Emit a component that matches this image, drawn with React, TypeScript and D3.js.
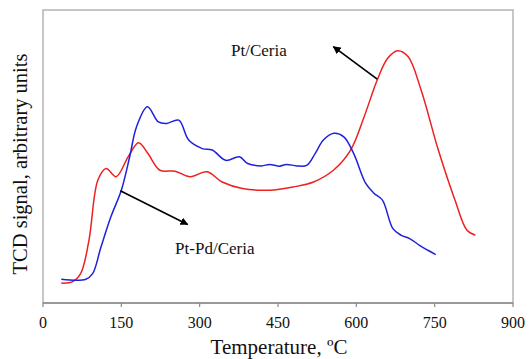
import React from "react";
import * as d3 from "d3";

const xTicks = [0, 150, 300, 450, 600, 750, 900];

const ptCeriaT = [35, 56, 72, 88, 105, 121, 140, 163, 183, 201, 224, 253, 282, 314, 343, 382, 434, 479, 518, 556, 589, 615, 640, 660, 679, 699, 724, 757, 789, 812, 828];
const ptCeriaS = [6.8, 7.2, 10.0, 21.4, 41.9, 45.9, 43.1, 49.9, 54.7, 51.0, 45.3, 45.0, 43.1, 44.8, 41.3, 39.1, 38.5, 39.6, 41.3, 45.3, 52.2, 63.6, 76.1, 83.5, 86.1, 84.1, 72.7, 52.2, 35.1, 24.8, 23.1];

const ptPdT = [35, 82, 95, 111, 130, 150, 166, 179, 200, 221, 237, 260, 279, 305, 324, 350, 376, 392, 418, 434, 453, 466, 486, 505, 521, 537, 557, 576, 595, 618, 634, 650, 670, 686, 702, 721, 737, 752];
const ptPdS = [8.1, 8.1, 10.0, 19.1, 29.4, 38.5, 49.9, 60.1, 67.0, 61.8, 61.3, 62.4, 55.6, 52.7, 52.2, 48.7, 49.9, 47.6, 46.8, 47.3, 46.7, 47.3, 46.8, 47.0, 51.0, 55.6, 57.9, 56.7, 51.0, 40.8, 37.4, 35.1, 25.4, 23.1, 22.0, 19.7, 18.0, 16.5];

const labels = ["Pt/Ceria", "Pt-Pd/Ceria"];

export default function App() {
  const W = 530, H = 359;
  const left = 43, right = 513, top = 10, bottom = 303;
  const x = d3.scaleLinear().domain([0, 900]).range([left, right]);
  const y = d3.scaleLinear().domain([0, 100]).range([bottom, top]);
  const line = d3.line<[number, number]>().x(d => x(d[0])).y(d => y(d[1])).curve(d3.curveCatmullRom.alpha(0.5));
  const red = line(ptCeriaT.map((t, i) => [t, ptCeriaS[i]]) as [number, number][]) || "";
  const blue = line(ptPdT.map((t, i) => [t, ptPdS[i]]) as [number, number][]) || "";
  const font = "'Liberation Serif', 'Times New Roman', serif";
  return (
    <svg width={W} height={H} style={{ position: "absolute", left: 0, top: 0, background: "#fff" }}>
      <defs>
        <marker id="ah" viewBox="0 0 10 10" refX="9" refY="5" markerWidth="8" markerHeight="8" orient="auto-start-reverse" markerUnits="userSpaceOnUse">
          <path d="M0,0 L10,5 L0,10 z" fill="#000" />
        </marker>
      </defs>
      <rect x={left} y={top} width={right - left} height={bottom - top} fill="none" stroke="#b4b4b4" strokeWidth={1.5} />
      <line x1={left} x2={right} y1={bottom} y2={bottom} stroke="#8a8a8a" strokeWidth={1.3} />
      {xTicks.map(t => (
        <g key={t}>
          <line x1={x(t)} x2={x(t)} y1={bottom} y2={bottom + 4} stroke="#8a8a8a" strokeWidth={1.2} />
          <text x={x(t)} y={328} textAnchor="middle" fontFamily={font} fontSize={16} fill="#111">{t}</text>
        </g>
      ))}
      <text x={(left + right) / 2 + 1} y={354} textAnchor="middle" fontFamily={font} fontSize={21} fill="#111">Temperature, ºC</text>
      <text transform={`translate(27,164) rotate(-90)`} textAnchor="middle" fontFamily={font} fontSize={20.5} fill="#111">TCD signal, arbitrary units</text>
      <path d={red} fill="none" stroke="#ee2020" strokeWidth={1.5} />
      <path d={blue} fill="none" stroke="#2020dd" strokeWidth={1.5} />
      <text x={x(360)} y={y(86.3) + 6} fontFamily={font} fontSize={17} fill="#111">{labels[0]}</text>
      <line x1={x(640)} y1={y(76.4)} x2={x(556)} y2={y(87.5)} stroke="#000" strokeWidth={1.7} markerEnd="url(#ah)" />
      <text x={x(253)} y={y(18.9) + 6} fontFamily={font} fontSize={17} fill="#111">{labels[1]}</text>
      <line x1={x(148)} y1={y(38.3)} x2={x(277)} y2={y(26.8)} stroke="#000" strokeWidth={1.7} markerEnd="url(#ah)" />
    </svg>
  );
}
